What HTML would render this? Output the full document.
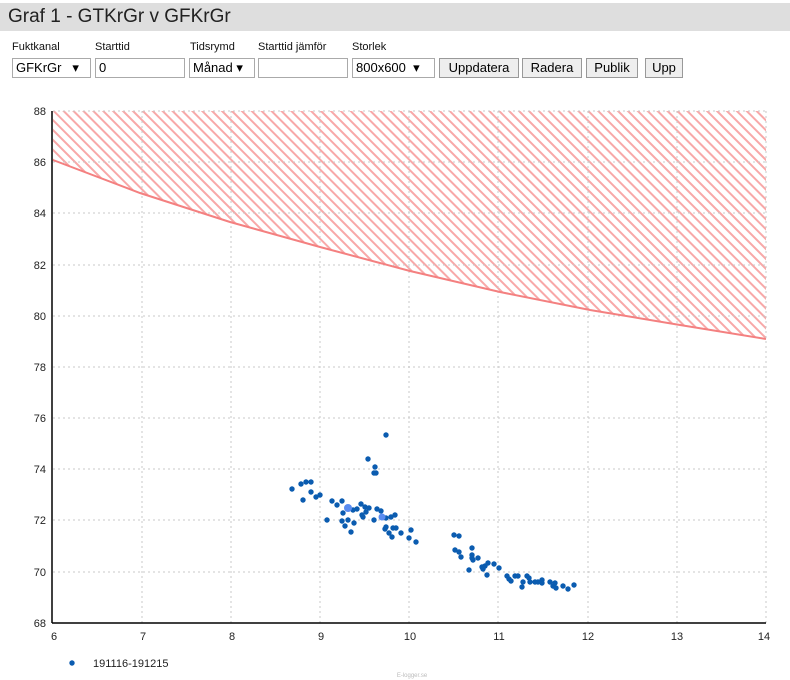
<!DOCTYPE html>
<html><head><meta charset="utf-8"><style>
body{margin:0;width:790px;height:680px;background:#fff;font-family:"Liberation Sans",sans-serif;overflow:hidden;position:relative}
.title{position:absolute;left:0;top:3px;width:790px;height:28px;background:#dedede;font-size:19px;line-height:28px;padding-left:8px;box-sizing:border-box;color:#222}
.lbl{position:absolute;top:41px;font-size:11px;color:#111}
.ctl{position:absolute;top:58px;height:20px;border:1px solid #aaa;box-sizing:border-box;font-size:13px;line-height:18px;padding-left:3px;background:#fff}
.btn{background:#eee;border:1px solid #999;text-align:center;padding:0}
</style></head><body>
<div class="title">Graf 1 - GTKrGr v GFKrGr</div>
<div class="lbl" style="left:12px">Fuktkanal</div>
<div class="lbl" style="left:95px">Starttid</div>
<div class="lbl" style="left:190px">Tidsrymd</div>
<div class="lbl" style="left:258px">Starttid jämför</div>
<div class="lbl" style="left:352px">Storlek</div>
<div class="ctl" style="left:12px;width:79px">GFKrGr &nbsp;&nbsp;▾</div>
<div class="ctl" style="left:95px;width:90px">0</div>
<div class="ctl" style="left:189px;width:66px">Månad ▾</div>
<div class="ctl" style="left:258px;width:90px"></div>
<div class="ctl" style="left:352px;width:83px">800x600 &nbsp;▾</div>
<div class="ctl btn" style="left:439px;width:80px">Uppdatera</div>
<div class="ctl btn" style="left:522px;width:60px">Radera</div>
<div class="ctl btn" style="left:586px;width:52px">Publik</div>
<div class="ctl btn" style="left:645px;width:38px">Upp</div>
<svg width="790" height="680" style="position:absolute;left:0;top:0">
<defs>
<pattern id="h" width="7" height="7" patternUnits="userSpaceOnUse" patternTransform="rotate(-45)">
<rect width="7" height="7" fill="#fff"/><line x1="1.5" y1="0" x2="1.5" y2="7" stroke="#f8a8a8" stroke-width="2"/></pattern>
<clipPath id="c"><rect x="53" y="111" width="713" height="512"/></clipPath>
</defs>
<path clip-path="url(#c)" d="M53,111 L766,111 L766,339 L680,325 L590,310 L500,292 L410,271 L320,247 L230,222 L140,193 L53,160 Z" fill="url(#h)"/>
<g stroke="#c8c8c8" stroke-dasharray="2,3" stroke-width="1">
<line x1="53" x2="766" y1="111" y2="111"/><line x1="53" x2="766" y1="162" y2="162"/><line x1="53" x2="766" y1="213" y2="213"/><line x1="53" x2="766" y1="265" y2="265"/><line x1="53" x2="766" y1="316" y2="316"/><line x1="53" x2="766" y1="367" y2="367"/><line x1="53" x2="766" y1="418" y2="418"/><line x1="53" x2="766" y1="469" y2="469"/><line x1="53" x2="766" y1="520" y2="520"/><line x1="53" x2="766" y1="572" y2="572"/>
<line y1="111" y2="623" x1="142" x2="142"/><line y1="111" y2="623" x1="231" x2="231"/><line y1="111" y2="623" x1="320" x2="320"/><line y1="111" y2="623" x1="409" x2="409"/><line y1="111" y2="623" x1="498" x2="498"/><line y1="111" y2="623" x1="588" x2="588"/><line y1="111" y2="623" x1="677" x2="677"/><line y1="111" y2="623" x1="766" x2="766"/>
</g>
<path d="M53,160 L140,193 L230,222 L320,247 L410,271 L500,292 L590,310 L680,325 L766,339" fill="none" stroke="#f48080" stroke-width="2"/>
<line x1="52" y1="111" x2="52" y2="623" stroke="#000" stroke-width="1.5"/>
<line x1="52" y1="623" x2="766" y2="623" stroke="#000" stroke-width="1.5"/>
<g font-size="11" fill="#222" text-anchor="end">
<text x="46" y="115">88</text><text x="46" y="166">86</text><text x="46" y="217">84</text><text x="46" y="269">82</text><text x="46" y="320">80</text><text x="46" y="371">78</text><text x="46" y="422">76</text><text x="46" y="473">74</text><text x="46" y="524">72</text><text x="46" y="576">70</text><text x="46" y="627">68</text>
</g>
<g font-size="11" fill="#222" text-anchor="middle">
<text x="54" y="640">6</text><text x="143" y="640">7</text><text x="232" y="640">8</text><text x="321" y="640">9</text><text x="410" y="640">10</text><text x="499" y="640">11</text><text x="588" y="640">12</text><text x="677" y="640">13</text><text x="764" y="640">14</text>
</g>
<g fill="#0b5cb0">
<circle cx="292" cy="489" r="2.7"/><circle cx="301" cy="484" r="2.7"/><circle cx="306" cy="482" r="2.7"/><circle cx="311" cy="482" r="2.7"/><circle cx="303" cy="500" r="2.7"/><circle cx="311" cy="492" r="2.7"/><circle cx="316" cy="497" r="2.7"/><circle cx="320" cy="495" r="2.7"/><circle cx="327" cy="520" r="2.7"/><circle cx="332" cy="501" r="2.7"/><circle cx="337" cy="505" r="2.7"/><circle cx="342" cy="501" r="2.7"/><circle cx="343" cy="513" r="2.7"/><circle cx="342" cy="521" r="2.7"/><circle cx="345" cy="526" r="2.7"/><circle cx="348" cy="520" r="2.7"/><circle cx="351" cy="532" r="2.7"/><circle cx="354" cy="523" r="2.7"/><circle cx="353" cy="510" r="2.7"/><circle cx="357" cy="509" r="2.7"/><circle cx="361" cy="504" r="2.7"/><circle cx="362" cy="515" r="2.7"/><circle cx="365" cy="507" r="2.7"/><circle cx="366" cy="512" r="2.7"/><circle cx="363" cy="517" r="2.7"/><circle cx="369" cy="508" r="2.7"/><circle cx="368" cy="459" r="2.7"/><circle cx="375" cy="467" r="2.7"/><circle cx="374" cy="473" r="2.7"/><circle cx="376" cy="473" r="2.7"/><circle cx="386" cy="435" r="2.7"/><circle cx="377" cy="509" r="2.7"/><circle cx="374" cy="520" r="2.7"/><circle cx="381" cy="511" r="2.7"/><circle cx="386" cy="518" r="2.7"/><circle cx="391" cy="517" r="2.7"/><circle cx="395" cy="515" r="2.7"/><circle cx="386" cy="527" r="2.7"/><circle cx="385" cy="529" r="2.7"/><circle cx="393" cy="528" r="2.7"/><circle cx="396" cy="528" r="2.7"/><circle cx="389" cy="533" r="2.7"/><circle cx="392" cy="537" r="2.7"/><circle cx="401" cy="533" r="2.7"/><circle cx="411" cy="530" r="2.7"/><circle cx="409" cy="538" r="2.7"/><circle cx="416" cy="542" r="2.7"/><circle cx="454" cy="535" r="2.7"/><circle cx="459" cy="536" r="2.7"/><circle cx="455" cy="550" r="2.7"/><circle cx="459" cy="552" r="2.7"/><circle cx="461" cy="557" r="2.7"/><circle cx="472" cy="548" r="2.7"/><circle cx="472" cy="555" r="2.7"/><circle cx="472" cy="558" r="2.7"/><circle cx="473" cy="560" r="2.7"/><circle cx="478" cy="558" r="2.7"/><circle cx="469" cy="570" r="2.7"/><circle cx="482" cy="567" r="2.7"/><circle cx="483" cy="569" r="2.7"/><circle cx="485" cy="566" r="2.7"/><circle cx="488" cy="563" r="2.7"/><circle cx="487" cy="575" r="2.7"/><circle cx="494" cy="564" r="2.7"/><circle cx="499" cy="568" r="2.7"/><circle cx="507" cy="576" r="2.7"/><circle cx="509" cy="579" r="2.7"/><circle cx="511" cy="581" r="2.7"/><circle cx="515" cy="576" r="2.7"/><circle cx="518" cy="576" r="2.7"/><circle cx="522" cy="587" r="2.7"/><circle cx="523" cy="582" r="2.7"/><circle cx="527" cy="576" r="2.7"/><circle cx="529" cy="578" r="2.7"/><circle cx="530" cy="582" r="2.7"/><circle cx="535" cy="582" r="2.7"/><circle cx="538" cy="582" r="2.7"/><circle cx="542" cy="580" r="2.7"/><circle cx="542" cy="583" r="2.7"/><circle cx="550" cy="582" r="2.7"/><circle cx="553" cy="586" r="2.7"/><circle cx="556" cy="588" r="2.7"/><circle cx="555" cy="583" r="2.7"/><circle cx="563" cy="586" r="2.7"/><circle cx="568" cy="589" r="2.7"/><circle cx="574" cy="585" r="2.7"/>
<circle cx="72" cy="663" r="2.7"/>
</g>
<circle cx="348" cy="508" r="4" fill="#5a8cf0"/><circle cx="382" cy="517" r="3.5" fill="#5a8cf0"/>
<text x="93" y="667" font-size="11" fill="#222">191116-191215</text>
<text x="412" y="677" font-size="6" fill="#bbb" text-anchor="middle">E-logger.se</text>
</svg>
</body></html>
